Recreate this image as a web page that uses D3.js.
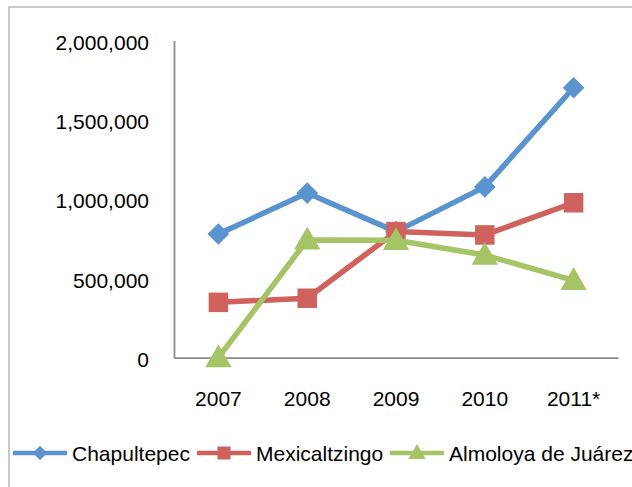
<!DOCTYPE html>
<html><head><meta charset="utf-8">
<script src="https://cdn.jsdelivr.net/npm/d3@7/dist/d3.min.js"></script>
<style>html,body{margin:0;padding:0;background:#fff;overflow:hidden}svg{display:block}</style>
</head><body>
<script>
const categories = ["2007","2008","2009","2010","2011*"];
const chapultepec = [780000, 1038000, 795000, 1077000, 1702000];
const mexicaltzingo = [349000, 375000, 795000, 774000, 977000];
const almoloya = [0, 742000, 740000, 647000, 488000];
const seriesNames = ["Chapultepec", "Mexicaltzingo", "Almoloya de Juárez"];
const yTicks = [0, 500000, 1000000, 1500000, 2000000];

(function () {
const W = 632, H = 487;
const colors = ["#5A93CD", "#CF625C", "#A5C465"];
const shapes = [d3.symbolDiamond2, d3.symbolSquare, d3.symbolTriangle];
const font = "Liberation Sans, Arial, sans-serif";
const fs = 21;

const svg = d3.select("body").append("svg").attr("width", W).attr("height", H);
svg.append("rect").attr("x", 9).attr("y", 7).attr("width", 700).attr("height", 600)
  .attr("fill", "#fff").attr("stroke", "#A6A6A6").attr("stroke-width", 1.2);

const pL = 174, pR = 618, pT = 40.5, pB = 357.7;
const x = d3.scaleBand().domain(categories).range([pL, pR]);
const y = d3.scaleLinear().domain([0, 2000000]).range([pB, pT]);
const fmt = d3.format(",");

const ya = svg.append("g").attr("transform", `translate(${pL},0)`)
  .call(d3.axisLeft(y).tickValues(yTicks).tickSize(0).tickPadding(25).tickFormat(fmt));
ya.select(".domain").attr("stroke", "#8C8C8C").attr("stroke-width", 1.8);
ya.selectAll("text").attr("font-family", font).attr("font-size", fs).attr("fill", "#000").attr("dy", "0.42em");

const xa = svg.append("g").attr("transform", `translate(0,${pB})`)
  .call(d3.axisBottom(x).tickSize(0).tickPadding(33));
xa.select(".domain").attr("stroke", "#8C8C8C").attr("stroke-width", 1.8);
xa.selectAll("text").attr("font-family", font).attr("font-size", fs).attr("fill", "#000");

const data = [chapultepec, mexicaltzingo, almoloya];
const cx = i => x(categories[i]) + x.bandwidth() / 2;
const line = d3.line().x((d, i) => cx(i)).y(d => y(d));
const symSizes = [300, 380, 300];

data.forEach((vals, s) => {
  const g = svg.append("g");
  g.append("path").datum(vals).attr("d", line).attr("fill", "none")
    .attr("stroke", colors[s]).attr("stroke-width", 5.5).attr("stroke-linejoin", "round");
  g.selectAll("path.m").data(vals).enter().append("path").attr("class", "m")
    .attr("d", d3.symbol().type(shapes[s]).size(symSizes[s]))
    .attr("transform", (d, i) => `translate(${cx(i)},${y(d) + (s === 2 ? 2 : 0)})`)
    .attr("fill", colors[s]);
});

const legY = 453;
const legX = [13, 197, 390];
seriesNames.forEach((n, s) => {
  const g = svg.append("g").attr("transform", `translate(${legX[s]},${legY})`);
  g.append("line").attr("x1", 0).attr("x2", 54).attr("y1", 0).attr("y2", 0)
    .attr("stroke", colors[s]).attr("stroke-width", 4.5);
  g.append("path").attr("d", d3.symbol().type(shapes[s]).size(s === 1 ? 170 : 130))
    .attr("transform", `translate(27,${s === 2 ? 1 : 0})`).attr("fill", colors[s]);
  g.append("text").attr("x", 59).attr("y", 0).attr("dy", "0.36em")
    .attr("font-family", font).attr("font-size", fs).attr("fill", "#000").text(n);
});
})();
</script>
</body></html>
